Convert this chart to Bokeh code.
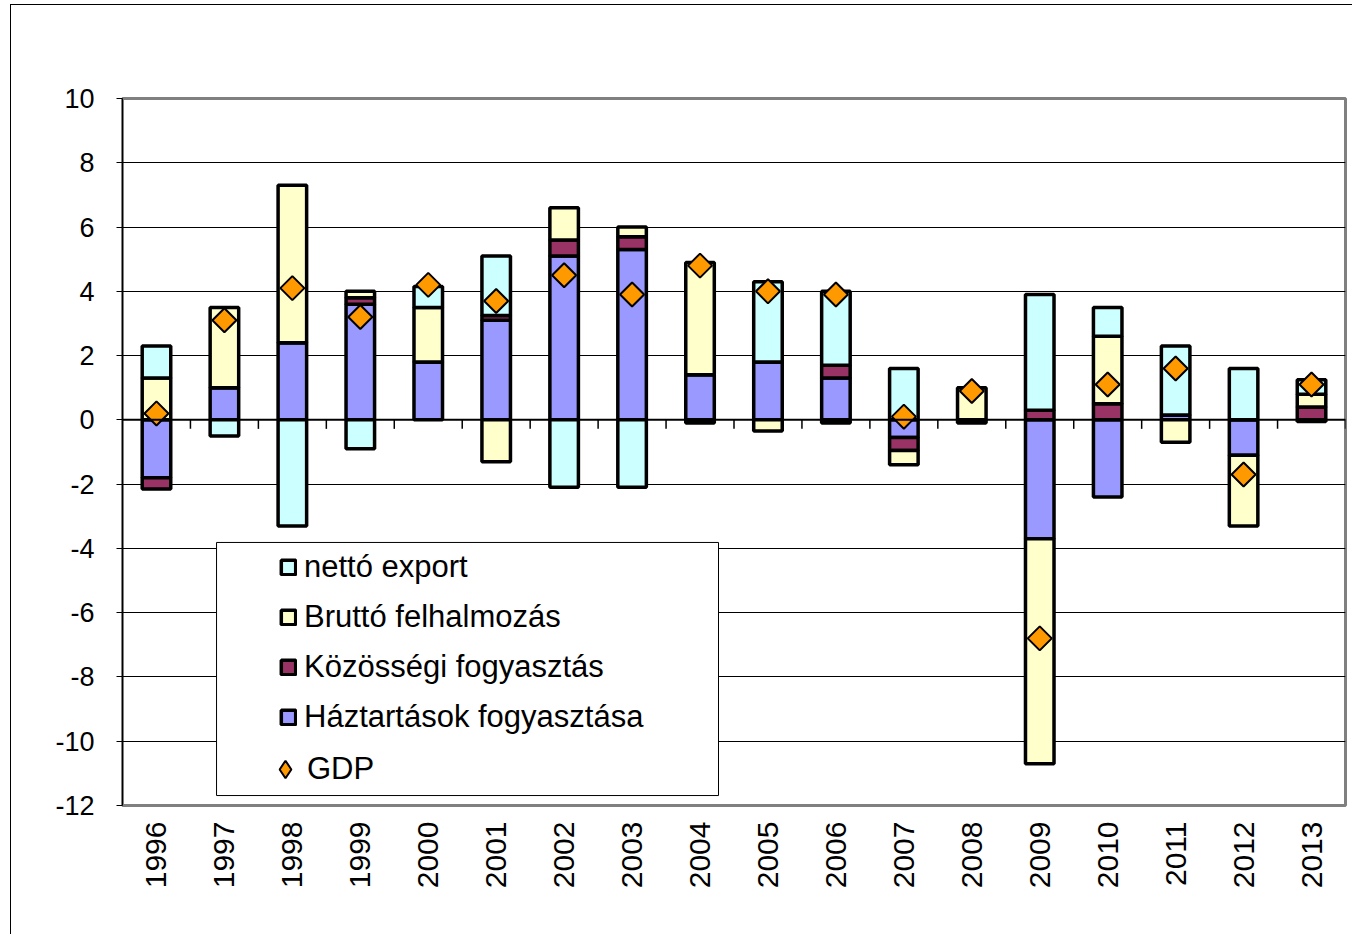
import numpy as np
from bokeh.plotting import figure
from bokeh.models import (Range1d, FixedTicker, Legend, LegendItem, BoxAnnotation,
                          ColumnDataSource, Span, PrintfTickFormatter)
from bokeh.embed import file_html
from bokeh.resources import INLINE

years = ["1996", "1997", "1998", "1999", "2000", "2001", "2002", "2003", "2004",
         "2005", "2006", "2007", "2008", "2009", "2010", "2011", "2012", "2013"]
haztartasok = [-1.8, 1.0, 2.4, 3.6, 1.8, 3.1, 5.1, 5.3, 1.4, 1.8, 1.3, -0.55, -0.1, -3.7, -2.4, 0.15, -1.1, -0.05]
kozossegi   = [-0.35, 0.0, 0.0, 0.2, 0.0, 0.15, 0.5, 0.4, 0.0, 0.0, 0.4, -0.4, 0.0, 0.3, 0.5, 0.0, 0.0, 0.4]
brutto      = [1.3, 2.5, 4.9, 0.2, 1.7, -1.3, 1.0, 0.3, 3.5, -0.35, -0.1, -0.45, 1.0, -7.0, 2.1, -0.7, -2.2, 0.4]
netto       = [1.0, -0.5, -3.3, -0.9, 0.65, 1.85, -2.1, -2.1, -0.1, 2.5, 2.3, 1.6, 0.0, 3.6, 0.9, 2.15, 1.6, 0.45]
gdp         = [0.2, 3.1, 4.1, 3.2, 4.2, 3.7, 4.5, 3.9, 4.8, 4.0, 3.9, 0.1, 0.9, -6.8, 1.1, 1.6, -1.7, 1.1]

y_ticks = [-12, -10, -8, -6, -4, -2, 0, 2, 4, 6, 8, 10]

series = [
    ("Háztartások fogyasztása", haztartasok, "#9999FF"),
    ("Közösségi fogyasztás", kozossegi, "#993366"),
    ("Bruttó felhalmozás", brutto, "#FFFFCC"),
    ("nettó export", netto, "#CCFFFF"),
]

FONT = "Liberation Sans"

p = figure(x_range=years, y_range=Range1d(y_ticks[0], y_ticks[-1]),
           width=1342, height=930, output_backend="svg", toolbar_location=None,
           min_border_left=111, min_border_right=8, min_border_top=93, min_border_bottom=130,
           styles={"margin-left": "10px", "margin-top": "4px",
                   "border-left": "1px solid black", "border-top": "1px solid black"})
p.x_range.range_padding = 0

p.outline_line_color = "#808080"
p.outline_line_width = 3
p.xgrid.grid_line_color = None
p.ygrid.grid_line_color = "#000000"
p.ygrid.grid_line_width = 1
p.ygrid.ticker = FixedTicker(ticks=y_ticks)

p.yaxis.ticker = FixedTicker(ticks=y_ticks)
p.yaxis.formatter = PrintfTickFormatter(format="%d")
p.yaxis.axis_line_color = "#000000"
p.yaxis.axis_line_width = 1
p.yaxis.major_tick_line_color = "#000000"
p.yaxis.major_tick_out = 6
p.yaxis.major_tick_in = 0
p.yaxis.minor_tick_line_color = None
p.yaxis.major_label_text_font = FONT
p.yaxis.major_label_text_font_size = "27px"
p.yaxis.major_label_text_color = "#000000"
p.yaxis.major_label_standoff = 22

p.xaxis.axis_line_color = None
p.xaxis.major_tick_line_color = None
p.xaxis.minor_tick_line_color = None
p.xaxis.major_label_orientation = np.pi / 2
p.xaxis.major_label_text_font = FONT
p.xaxis.major_label_text_font_size = "30px"
p.xaxis.major_label_text_color = "#000000"
p.xaxis.major_label_standoff = 10

# stacked bars (positive upward, negative downward)
pos_base = [0.0] * len(years)
neg_base = [0.0] * len(years)
renderers = {}
for name, vals, color in series:
    bottoms, tops = [], []
    for i, v in enumerate(vals):
        if v >= 0:
            bottoms.append(pos_base[i]); tops.append(pos_base[i] + v); pos_base[i] += v
        else:
            tops.append(neg_base[i]); bottoms.append(neg_base[i] + v); neg_base[i] += v
    src = ColumnDataSource(dict(x=years, bottom=bottoms, top=tops))
    r = p.vbar(x="x", bottom="bottom", top="top", width=0.42, source=src,
               fill_color=color, line_color="#000000", line_width=3.5)
    renderers[name] = r

# zero line and category tick marks
p.add_layout(Span(location=0, dimension="width", line_color="#000000", line_width=2))
bounds = list(range(1, len(years) + 1))
p.segment(x0=bounds, x1=bounds, y0=[0] * len(bounds), y1=[-0.28] * len(bounds),
          line_color="#000000", line_width=1.5)

g = p.scatter(x=years, y=gdp, marker="square", angle=np.pi / 4, size=17,
              fill_color="#FF9900", line_color="#000000", line_width=2)
# legend-only diamond swatch (no visible points)
g_leg = p.scatter(x=[years[0]], y=[float("nan")], marker="diamond", size=17,
                  fill_color="#FF9900", line_color="#000000", line_width=2)

# legend box
box = BoxAnnotation(left=1.384, right=8.772, top=-3.815, bottom=-11.69,
                    fill_color="white", fill_alpha=1.0, line_color="#000000",
                    line_width=1, line_alpha=1.0)
p.add_layout(box)

def style_legend(lg, glyph, standoff):
    lg.background_fill_alpha = 0
    lg.border_line_alpha = 0
    lg.padding = 0
    lg.margin = 0
    lg.spacing = 10
    lg.label_height = 40
    lg.glyph_width = glyph
    lg.glyph_height = glyph
    lg.label_standoff = standoff
    lg.label_text_font = FONT
    lg.label_text_font_size = "31px"
    lg.label_text_color = "#000000"

legend = Legend(items=[
    LegendItem(label="nettó export", renderers=[renderers["nettó export"]]),
    LegendItem(label="Bruttó felhalmozás", renderers=[renderers["Bruttó felhalmozás"]]),
    LegendItem(label="Közösségi fogyasztás", renderers=[renderers["Közösségi fogyasztás"]]),
    LegendItem(label="Háztartások fogyasztása", renderers=[renderers["Háztartások fogyasztása"]]),
], location=(157, 68))
style_legend(legend, 18, 7)
p.add_layout(legend, "center")

legend2 = Legend(items=[LegendItem(label="GDP", renderers=[g_leg])], location=(141, 14))
style_legend(legend2, 44, 0)
p.add_layout(legend2, "center")

open("out.html", "w").write(file_html(p, INLINE))
